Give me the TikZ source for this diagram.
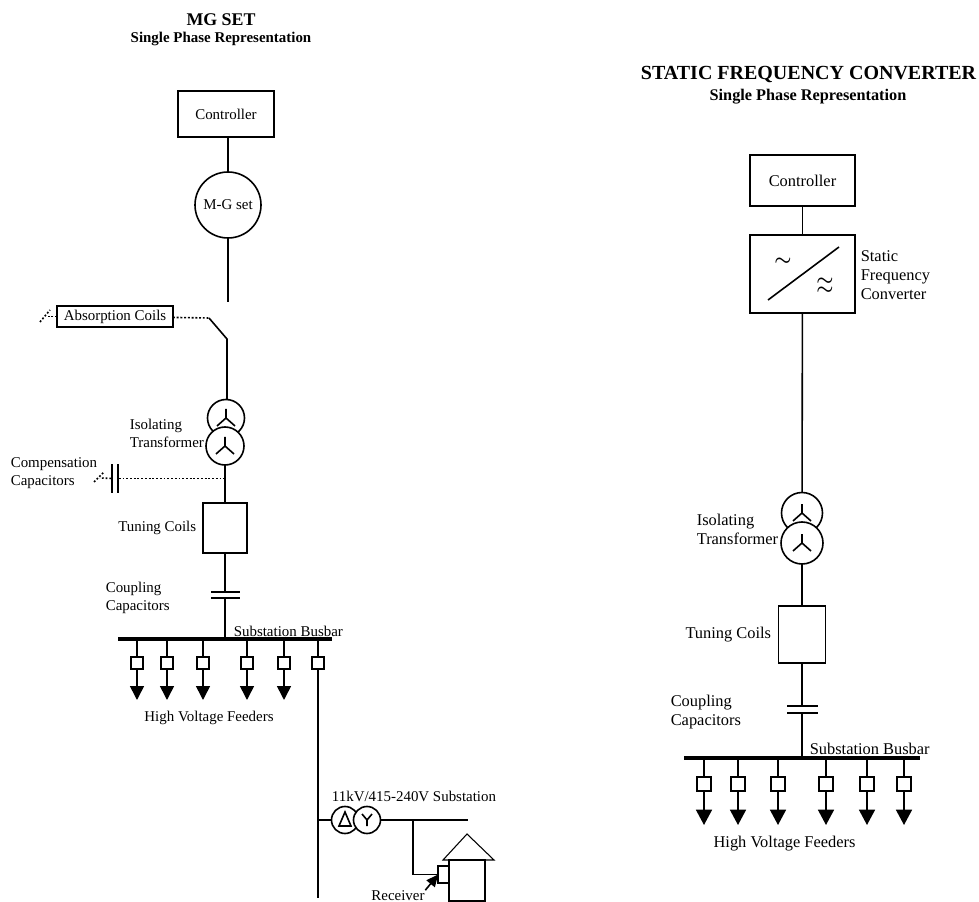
\documentclass[tikz,border=0pt]{standalone}
\usepackage{fontspec}
\setmainfont{Liberation Serif}
\usetikzlibrary{arrows.meta,
positioning}

\begin{document}
\begin{tikzpicture}[
		x=0.75pt,
		y=-0.75pt,
		line width=1.2pt,
		box/.style={
			draw,
			outer sep=0pt,
			inner sep=0pt
		},
		bar/.style={
			fill=black,
			outer sep=0pt,
			inner sep=0pt
		},
		notea/.style={
			inner sep=0pt,
			align=left,
			font=\fontsize{11.2}{13.5}\selectfont
		},
		noteb/.style={
			inner sep=0pt,
			align=left,
			font=\fontsize{12.3}{14.25}\selectfont
		},
		breakera/.style={box, fill=white, minimum size=9pt},
		breakerb/.style={box, fill=white, minimum size=10.5pt},
		feeda/.style={-{Triangle[width=10.5pt,length=10.5pt]}},
		feedb/.style={-{Triangle[width=12pt,length=11.5pt]}},
		pointer/.style={-{Triangle[width=8pt,length=9pt]}},
		dotline/.style={dash pattern=on 1.4pt off 1.4pt},
		wave/.style={inner sep=0pt, align=center, font=\fontsize{15}{6.75}\selectfont\boldmath},
		star/.style={
			box,
			circle,
			fill=white,
			path picture={
				\draw (path picture bounding box.center) -- +(0,-9)
				(path picture bounding box.center) -- +(-9,8)
				(path picture bounding box.center) -- +(9,8);
			}
		},
		wye/.style={
			box,
			circle,
			fill=white,
			path picture={
				\draw (path picture bounding box.center) -- +(-5,-6)
				(path picture bounding box.center) -- +(5,-6)
				(path picture bounding box.center) -- +(0,6);
			}
		},
		delta/.style={
			box,
			circle,
			path picture={
				\draw ([shift={(0,-8)}]path picture bounding box.center)
				-- ([shift={(-6,6)}]path picture bounding box.center)
				-- ([shift={(6,6)}]path picture bounding box.center) -- cycle;
			}
		}
		]
		\useasboundingbox (0,0) rectangle (979,902);
		
		% Titles
		\node[inner sep=0pt, font=\fontsize{13.4}{16}\selectfont\bfseries] (titleA) at (221,20) {MG SET};
		\node[inner sep=0pt, font=\fontsize{11.2}{13}\selectfont\bfseries] (subA) at (221,39) {Single Phase Representation};
		\node[inner sep=0pt, anchor=east, font=\fontsize{15}{18}\selectfont\bfseries] (titleB) at (977,75) {STATIC FREQUENCY CONVERTER};
		\node[inner sep=0pt, font=\fontsize{12.2}{14}\selectfont\bfseries] (subB) at (808,97) {Single Phase Representation};
		
		% MG set chain
		\node[box, notea, align=center, minimum width=72pt, minimum height=34.5pt] (ctrlA) at (226,114) {Controller};
		\node[box, notea, circle, align=center, minimum size=49.5pt, below=26.25pt of ctrlA, xshift=1.5pt] (mgset) {M-G set};
		\coordinate[below=48pt of mgset] (mgend);
		
		% Absorption coils and switch
		\node[box, notea, align=center, minimum width=87pt, minimum height=15.75pt] (absorb) at (115,316.5) {Absorption Coils};
		\coordinate (swa) at (209,318);
		\coordinate (swb) at (227,339);
		\coordinate (abgnd) at (47,316.5);
		\coordinate (abgnda) at (40,322);
		\coordinate (abgndb) at (50,310);
		
		% Transformer
		\node[star, minimum size=27.75pt] (tA1) at (226,418) {};
		\node[star, minimum size=28.5pt] (tA2) at (225,446) {};
		\node[notea, anchor=west] (isoA) at (129,433) {Isolating\\Transformer};
		
		% Compensation capacitors
		\node[bar, minimum width=1.2pt, minimum height=21.75pt] (compa) at (112,478.5) {};
		\node[bar, minimum width=1.2pt, minimum height=21.75pt] (compb) at (118,478.5) {};
		\coordinate (cpgnd) at (100,478);
		\coordinate (cpgnda) at (94,482);
		\coordinate (cpgndb) at (104,472);
		\node[notea, anchor=west] (compA) at (10,473.5) {Compensation\\Capacitors};
		
		% Tuning and coupling
		\node[box, minimum width=33pt, minimum height=37.5pt, below=28.5pt of tA2] (tuneA) {};
		\node[notea, left=4.5pt of tuneA] (coilA) {Tuning Coils};
		\node[bar, minimum width=21.75pt, minimum height=1.2pt, below=28.5pt of tuneA] (capAa) {};
		\node[bar, minimum width=21.75pt, minimum height=1.2pt, below=3.3pt of capAa] (capAb) {};
		\node[notea, anchor=west] (coupA) at (105,597.5) {Coupling\\Capacitors};
		
		% Busbar
		\node[bar, minimum width=160.5pt, minimum height=3pt, below=28.5pt of capAb] (busA) {};
		\node[notea, anchor=west] (busnoteA) at (233,631) {Substation Busbar};
		
		% Feeders
		\node[breakera] (fa1) at (137,663) {};
		\node[breakera] (fa2) at (167,663) {};
		\node[breakera] (fa3) at (203,663) {};
		\node[breakera] (fa4) at (247,663) {};
		\node[breakera] (fa5) at (284,663) {};
		\node[breakera] (fa6) at (318,663) {};
		\coordinate[below=23.25pt of fa1] (ta1);
		\coordinate[below=23.25pt of fa2] (ta2);
		\coordinate[below=23.25pt of fa3] (ta3);
		\coordinate[below=23.25pt of fa4] (ta4);
		\coordinate[below=23.25pt of fa5] (ta5);
		\coordinate (enda) at (318,898);
		\node[notea] (hvA) at (209,718) {High Voltage Feeders};
		
		% Substation
		\node[notea] (subnote) at (414,796) {11kV/415-240V Substation};
		\node[delta, minimum size=20.25pt] (txd) at (345,820) {};
		\node[wye, minimum size=20.25pt] (txy) at (367,820) {};
		\coordinate (lvend) at (468,820);
		\coordinate (lvtap) at (413,820);
		
		% House
		\node[box, minimum width=27pt, minimum height=30.75pt] (house) at (467,880.5) {};
		\node[box, minimum width=8pt, minimum height=12.75pt] (rxbox) at (443.5,874.5) {};
		\node[notea] (rxnote) at (398,896) {Receiver};
		\coordinate (roofl) at (443,860);
		\coordinate (rooft) at (467,834);
		\coordinate (roofr) at (494,860);
		
		% Static converter chain
		\node[box, noteb, align=center, minimum width=78.75pt, minimum height=38.25pt] (ctrlB) at (802.5,180.5) {Controller};
		\node[box, minimum width=78.75pt, minimum height=58.5pt, below=21.75pt of ctrlB] (sfc) {};
		\coordinate (slasha) at (768,300);
		\coordinate (slashb) at (839,247);
		\node[wave] (wavea) at (783,262) {$\sim$};
		\node[wave] (waveb) at (825,286.5) {$\sim$\\$\sim$};
		\node[noteb, anchor=west] (sfcnote) at (860,275) {Static\\Frequency\\Converter};
		
		% Transformer
		\node[star, minimum size=30.75pt] (tB1) at (802,513) {};
		\node[star, minimum size=31.5pt] (tB2) at (802,543) {};
		\node[noteb, anchor=west] (isoB) at (696,529.5) {Isolating\\Transformer};
		
		% Tuning and coupling
		\node[box, minimum width=35.25pt, minimum height=42.75pt, below=31.5pt of tB2] (tuneB) {};
		\node[noteb, left=5pt of tuneB] (coilB) {Tuning Coils};
		\node[bar, minimum width=23.25pt, minimum height=1.2pt, below=31.5pt of tuneB] (capBa) {};
		\node[bar, minimum width=23.25pt, minimum height=1.2pt, below=4pt of capBa] (capBb) {};
		\node[noteb, anchor=west] (coupB) at (670,712.5) {Coupling\\Capacitors};
		
		% Busbar
		\node[bar, minimum width=177pt, minimum height=3pt, below=31.5pt of capBb] (busB) {};
		\node[noteb, anchor=west] (busnoteB) at (809,749) {Substation Busbar};
		
		% Feeders
		\node[breakerb] (fb1) at (704,784) {};
		\node[breakerb] (fb2) at (738,784) {};
		\node[breakerb] (fb3) at (778,784) {};
		\node[breakerb] (fb4) at (826,784) {};
		\node[breakerb] (fb5) at (867,784) {};
		\node[breakerb] (fb6) at (904,784) {};
		\coordinate[below=25.5pt of fb1] (tb1);
		\coordinate[below=25.5pt of fb2] (tb2);
		\coordinate[below=25.5pt of fb3] (tb3);
		\coordinate[below=25.5pt of fb4] (tb4);
		\coordinate[below=25.5pt of fb5] (tb5);
		\coordinate[below=25.5pt of fb6] (tb6);
		\node[noteb] (hvB) at (784.5,844) {High Voltage Feeders};
		
		% Connections
		\draw (ctrlA.south -| mgset) -- (mgset);
		\draw (mgset) -- (mgend);
		\draw[dotline] (absorb) -- (swa);
		\draw (swa) -- (swb) -- (swb |- tA1.north);
		\draw[dotline] (absorb) -- (abgnd);
		\draw[dotline] (abgnda) -- (abgndb);
		\draw (tA2) -- (tuneA);
		\draw[dotline] (compb) -- (compb -| tA2);
		\draw[dotline] (compa) -- (cpgnd);
		\draw[dotline] (cpgnda) -- (cpgndb);
		\draw (tuneA) -- (capAa);
		\draw (capAb) -- (capAb |- busA);
		
		\draw (fa1 |- busA) -- (fa1);
		\draw (fa2 |- busA) -- (fa2);
		\draw (fa3 |- busA) -- (fa3);
		\draw (fa4 |- busA) -- (fa4);
		\draw (fa5 |- busA) -- (fa5);
		\draw (fa6 |- busA) -- (fa6);
		\draw[feeda] (fa1) -- (ta1);
		\draw[feeda] (fa2) -- (ta2);
		\draw[feeda] (fa3) -- (ta3);
		\draw[feeda] (fa4) -- (ta4);
		\draw[feeda] (fa5) -- (ta5);
		\draw (fa6) -- (enda);
		
		\draw (txd -| fa6) -- (txd);
		\draw (txy) -- (lvend);
		\draw[line width=1.4pt] (lvtap) |- (rxbox);
		\draw[pointer] (rxnote.north east) -- (rxbox.west);
		\draw[line width=0.8pt] (roofl) -- (rooft) -- (roofr) -- cycle;
		
		\draw (ctrlB) -- (sfc);
		\draw (slasha) -- (slashb);
		\draw (sfc) -- (tB1);
		\draw (tB2) -- (tuneB);
		\draw (tuneB) -- (capBa);
		\draw (capBb) -- (capBb |- busB);
		
		\draw (fb1 |- busB) -- (fb1);
		\draw (fb2 |- busB) -- (fb2);
		\draw (fb3 |- busB) -- (fb3);
		\draw (fb4 |- busB) -- (fb4);
		\draw (fb5 |- busB) -- (fb5);
		\draw (fb6 |- busB) -- (fb6);
		\draw[feedb] (fb1) -- (tb1);
		\draw[feedb] (fb2) -- (tb2);
		\draw[feedb] (fb3) -- (tb3);
		\draw[feedb] (fb4) -- (tb4);
		\draw[feedb] (fb5) -- (tb5);
		\draw[feedb] (fb6) -- (tb6);
		
	\end{tikzpicture}
\end{document}
